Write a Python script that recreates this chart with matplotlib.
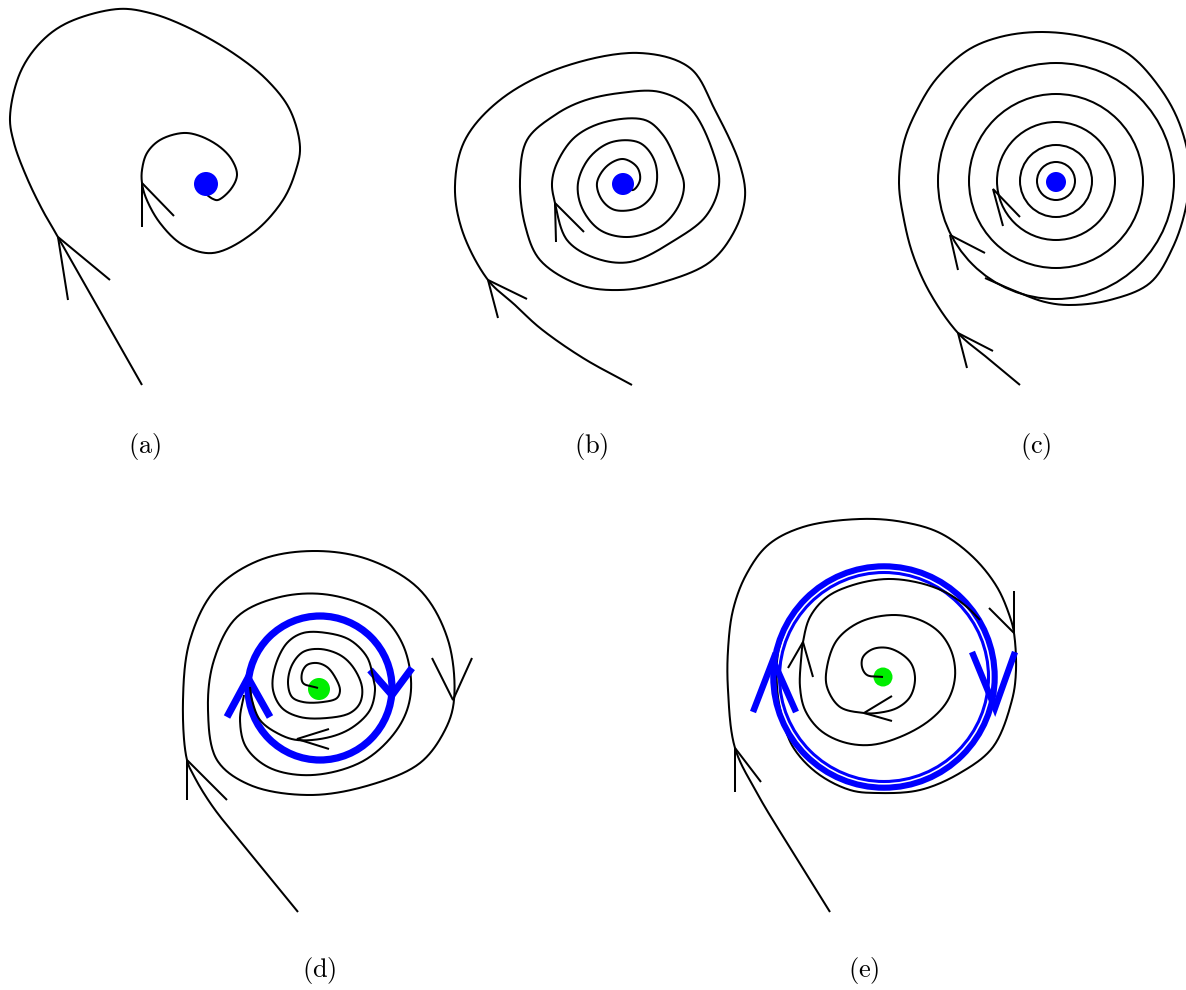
import numpy as np
import matplotlib
matplotlib.use("Agg")
import matplotlib.pyplot as plt
from matplotlib.patches import Circle

plt.rcParams["mathtext.fontset"] = "cm"

# ---- data: curves traced in picture pixels (x right, y down) ----

# (a) single trajectory spiralling into the focus
a_curve = [(142, 385), (100, 311), (58, 237), (43, 211), (27, 178), (14, 143), (10, 117),
           (20, 73), (40, 43), (67, 23), (118, 9), (150, 13), (187, 27), (233, 53),
           (267, 80), (290, 110), (300, 147), (296, 170), (283, 200), (253, 233),
           (213, 253), (183, 245), (160, 223), (146, 198), (142, 183), (142, 170),
           (147, 153), (160, 140), (183, 133), (200, 136), (220, 147), (232, 160),
           (237, 175), (231, 189), (218, 200), (213, 199), (207, 195)]
a_arrows = [[(68, 300), (58, 237), (110, 280)],
            [(142, 227), (142, 183), (174, 216)]]
a_dot = (206, 184, 12)

# (b) trajectory with several turns
b_curve = [(632, 385), (583, 358), (540, 328), (515, 305), (488, 280), (462, 230),
           (455, 185), (465, 140), (500, 100), (560, 68), (640, 53), (690, 68),
           (715, 110), (740, 165), (745, 197), (735, 230), (710, 262), (660, 283),
           (620, 290), (580, 285), (540, 260), (525, 225), (520, 180), (527, 140),
           (555, 115), (583, 101), (620, 93), (660, 92), (690, 108), (713, 152),
           (719, 185), (706, 216), (675, 240), (630, 262), (595, 258), (567, 240),
           (555, 203), (552, 183), (557, 163), (575, 137), (605, 122), (645, 120),
           (663, 135), (677, 163), (684, 185), (678, 207), (660, 227), (628, 237),
           (600, 230), (582, 208), (578, 183), (590, 157), (612, 142), (640, 143),
           (655, 162), (655, 190), (640, 207), (615, 210), (602, 200), (597, 183),
           (607, 166), (623, 159), (637, 167), (640, 180), (633, 190), (624, 186)]
b_arrows = [[(498, 318), (488, 280), (527, 299)],
            [(556, 242), (555, 203), (584, 232)]]
b_dot = (623, 184, 11)

# (c) near-circular rings round the centre
c_center = (1056, 181)
c_radii = [19, 36, 59, 87, 118]
c_curve = [(1020, 385), (990, 360), (958, 333), (930, 293), (913, 255), (904, 220),
           (899, 183), (904, 142), (918, 108), (937, 78), (968, 50), (1000, 37),
           (1040, 32), (1085, 37), (1127, 53), (1160, 88), (1180, 125), (1190, 170),
           (1186, 207), (1173, 247), (1150, 283), (1110, 300), (1070, 305),
           (1045, 302), (1015, 291), (985, 278)]
c_arrows = [[(967, 368), (958, 333), (993, 351)],
            [(958, 270), (950, 235), (985, 253)],
            [(1003, 226), (993, 189), (1020, 217)]]
c_dot = (1056, 182, 10)

# (d) stable limit cycle
d_outer = [(298, 912), (253, 857), (213, 807), (195, 778), (187, 760), (183, 700),
           (190, 640), (215, 590), (260, 560), (315, 551), (370, 560), (420, 590),
           (448, 640), (454, 700), (445, 730), (420, 763), (370, 785), (310, 795),
           (250, 785), (217, 760), (208, 710), (214, 660), (237, 617), (280, 597),
           (330, 595), (378, 613), (403, 645), (411, 690), (400, 725), (365, 760),
           (313, 775), (270, 768), (246, 747), (240, 720), (244, 695)]
d_inner = [(318, 688), (303, 683), (302, 673), (307, 665), (317, 663), (327, 667),
           (335, 677), (340, 690), (337, 698), (323, 702), (303, 702), (292, 697),
           (288, 683), (292, 665), (303, 652), (320, 649), (340, 655), (353, 667),
           (362, 687), (360, 703), (350, 713), (327, 718), (300, 717), (282, 708),
           (273, 690), (275, 667), (287, 643), (303, 633), (327, 633), (350, 640),
           (367, 657), (373, 677), (375, 690), (370, 710), (353, 727), (330, 737),
           (297, 740), (277, 733), (260, 720), (252, 700), (250, 687)]
d_arrows = [[(187, 800), (187, 760), (227, 800)],
            [(432, 658), (453, 700), (472, 658)],
            [(329, 729), (297, 739), (329, 749)]]
d_cycle = (320, 688, 72)
d_cycle_arrows = [[(227, 717), (248, 678), (270, 717)],
                  [(370, 670), (392, 695), (412, 668)]]
d_dot = (319, 689, 11)

# (e) semi-stable limit cycle
e_outer = [(830, 912), (787, 843), (757, 793), (735, 748), (728, 690), (728, 650),
           (733, 610), (746, 575), (768, 545), (803, 527), (860, 519), (903, 522),
           (940, 533), (973, 557), (997, 587), (1010, 617), (1014, 633), (1016, 670),
           (1012, 700), (993, 747), (960, 773), (920, 790), (877, 793), (850, 790),
           (817, 773), (793, 747), (782, 717), (777, 687), (778, 653), (785, 630)]
e_inner = [(883, 677), (867, 675), (862, 667), (863, 657), (873, 649), (888, 648),
           (903, 655), (912, 665), (915, 680), (910, 697), (897, 708), (877, 713),
           (864, 713), (840, 707), (827, 687), (827, 667), (837, 640), (860, 622),
           (893, 615), (920, 620), (940, 633), (952, 653), (955, 677), (948, 700),
           (930, 720), (900, 737), (870, 745), (843, 742), (820, 730), (805, 710),
           (800, 687), (801, 660), (803, 642), (810, 617), (827, 597), (853, 585),
           (887, 579), (920, 583), (947, 593), (967, 607), (980, 620)]
e_arrows = [[(735, 792), (735, 748), (761, 782)],
            [(1014, 591), (1014, 633), (989, 608)],
            [(892, 696), (864, 713), (892, 721)],
            [(788, 668), (803, 642), (813, 677)]]
e_cycle = (884, 677, 110.7)
e_cycle_in = (884, 677, 104.5)
e_cycle_arrows = [[(753, 712), (773, 660), (796, 712)],
                  [(972, 652), (995, 708), (1015, 652)]]
e_dot = (883, 677, 9.5)

labels = ["(a)", "(b)", "(c)", "(d)", "(e)"]
label_pos = [(145, 447), (591, 447), (1036, 447), (319, 971), (864, 971)]

BLUE = "#0000ff"
GREEN = "#00ee00"


def smooth(pts, n=20):
    # centripetal Catmull-Rom through the traced points
    p = np.asarray(pts, float)
    p = np.vstack([2 * p[0] - p[1], p, 2 * p[-1] - p[-2]])
    out = []
    u = np.linspace(0, 1, n, endpoint=False)[:, None]
    for i in range(1, len(p) - 2):
        p0, p1, p2, p3 = p[i - 1], p[i], p[i + 1], p[i + 2]
        t0 = 0.0
        t1 = t0 + np.linalg.norm(p1 - p0) ** 0.5
        t2 = t1 + np.linalg.norm(p2 - p1) ** 0.5
        t3 = t2 + np.linalg.norm(p3 - p2) ** 0.5
        t = t1 + (t2 - t1) * u
        a1 = (t1 - t) / (t1 - t0) * p0 + (t - t0) / (t1 - t0) * p1
        a2 = (t2 - t) / (t2 - t1) * p1 + (t - t1) / (t2 - t1) * p2
        a3 = (t3 - t) / (t3 - t2) * p2 + (t - t2) / (t3 - t2) * p3
        b1 = (t2 - t) / (t2 - t0) * a1 + (t - t0) / (t2 - t0) * a2
        b2 = (t3 - t) / (t3 - t1) * a2 + (t - t1) / (t3 - t1) * a3
        out.append((t2 - t) / (t2 - t1) * b1 + (t - t1) / (t2 - t1) * b2)
    out.append(p[-2][None])
    return np.vstack(out)


def curve(ax, pts, color="black", lw=1.45, z=3):
    s = smooth(pts)
    ax.plot(s[:, 0], s[:, 1], color=color, lw=lw, solid_capstyle="butt",
            solid_joinstyle="round", zorder=z)


def arrow(ax, pts, color="black", lw=1.45, z=3):
    p = np.asarray(pts, float)
    ax.plot(p[:, 0], p[:, 1], color=color, lw=lw, solid_capstyle="butt",
            solid_joinstyle="miter", zorder=z)


def dot(ax, d, color, z=2):
    ax.add_patch(Circle(d[:2], d[2], color=color, lw=0, zorder=z))


def ring(ax, c, color, lw, z=2):
    ax.add_patch(Circle(c[:2], c[2], fill=False, ec=color, lw=lw, zorder=z))


fig = plt.figure(figsize=(11.86, 9.9), dpi=100)
ax = fig.add_axes([0, 0, 1, 1])
ax.set_xlim(0, 1186)
ax.set_ylim(990, 0)
ax.axis("off")

# (a)
curve(ax, a_curve)
dot(ax, a_dot, BLUE, z=4)
for a in a_arrows:
    arrow(ax, a)

# (b)
curve(ax, b_curve)
dot(ax, b_dot, BLUE, z=4)
for a in b_arrows:
    arrow(ax, a)

# (c)
for r in c_radii:
    ring(ax, (c_center[0], c_center[1], r), "black", 1.45, z=3)
curve(ax, c_curve)
dot(ax, c_dot, BLUE, z=4)
for a in c_arrows:
    arrow(ax, a)

# (d)
curve(ax, d_outer)
ring(ax, d_cycle, BLUE, 5.2, z=4)
for a in d_cycle_arrows:
    arrow(ax, a, color=BLUE, lw=5.2, z=4)
dot(ax, d_dot, GREEN, z=5)
curve(ax, d_inner, z=6)
for a in d_arrows:
    arrow(ax, a)

# (e)
curve(ax, e_outer)
ring(ax, e_cycle, BLUE, 4.4, z=4)
ring(ax, e_cycle_in, BLUE, 2.2, z=4)
for a in e_cycle_arrows:
    arrow(ax, a, color=BLUE, lw=4.6, z=4)
dot(ax, e_dot, GREEN, z=5)
curve(ax, e_inner, z=6)
for a in e_arrows:
    arrow(ax, a, z=6)

for lab, (x, y) in zip(labels, label_pos):
    ax.text(x, y, r"$\mathrm{" + lab + "}$", fontsize=19, ha="center", va="center")

fig.savefig("out.png", dpi=100)
